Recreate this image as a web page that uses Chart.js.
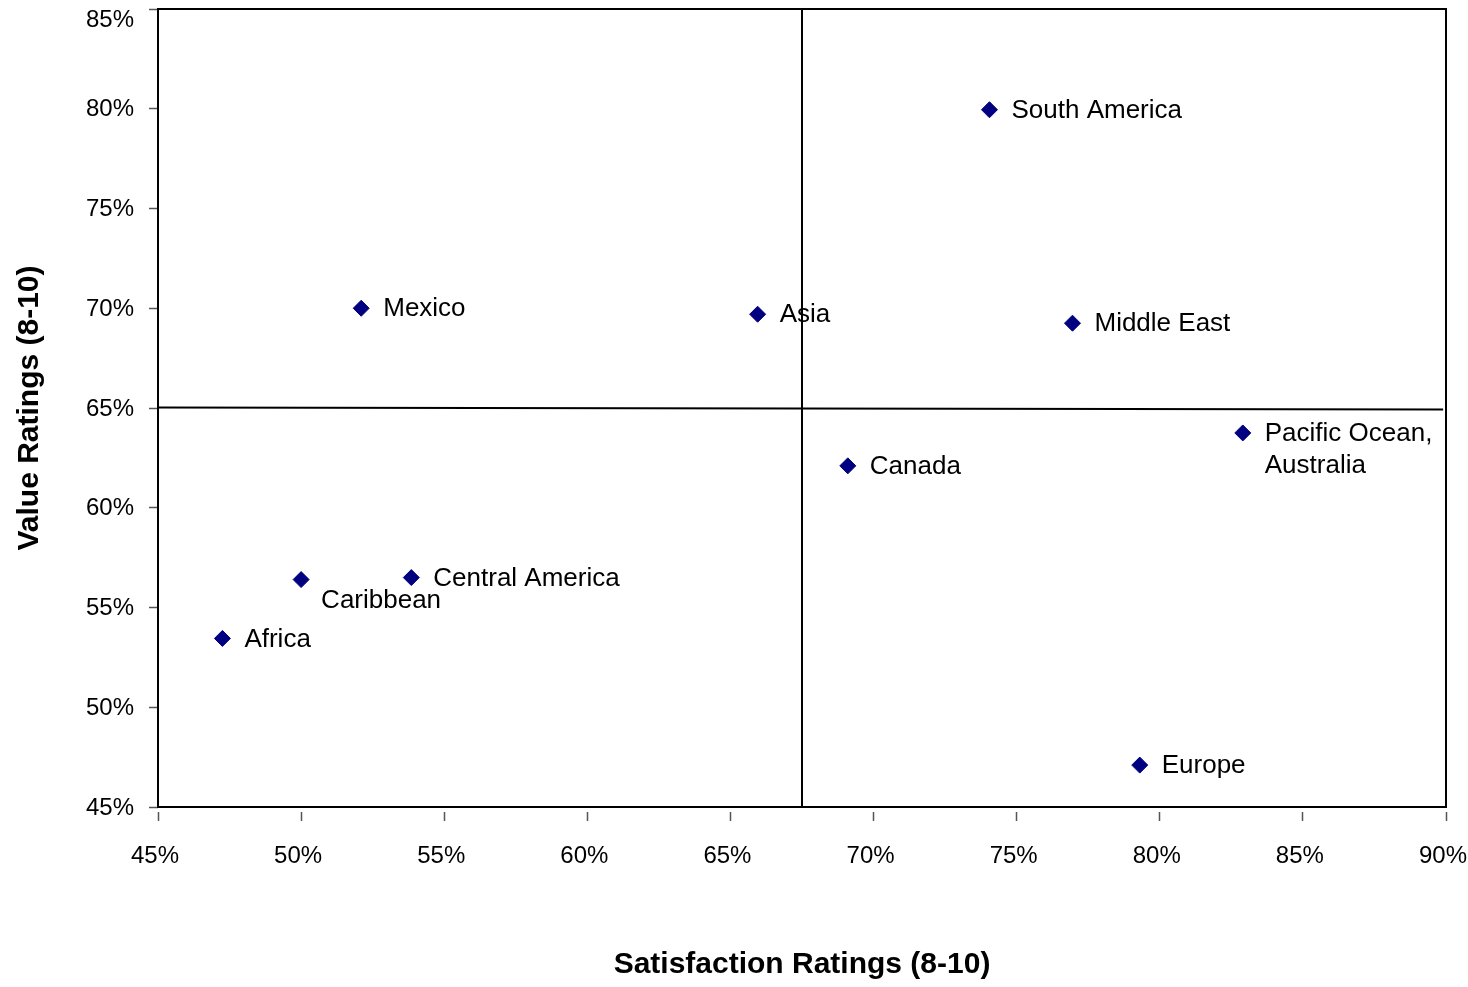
<!DOCTYPE html>
<html>
<head>
<meta charset="utf-8">
<title>Satisfaction vs Value Ratings by Region</title>
<script src="https://cdn.jsdelivr.net/npm/chart.js@4/dist/chart.umd.min.js"></script>
<style>
  html, body { margin: 0; padding: 0; background: #ffffff; }
  #wrap { width: 1468px; height: 987px; position: relative; }
</style>
</head>
<body>
<div id="wrap"><canvas id="chart"></canvas></div>
<script>
// Regions and their ratings (share of 8-10 scores, in %)
const regions = [
  'South America', 'Mexico', 'Asia', 'Middle East', 'Pacific Ocean,\nAustralia',
  'Canada', 'Central America', 'Caribbean', 'Africa', 'Europe'
];
const satisfactionRatings = [74.05, 52.1, 65.95, 76.95, 82.9, 69.1, 53.85, 50.0, 47.25, 79.3];
const valueRatings        = [79.95, 70.0, 69.7, 69.25, 63.75, 62.1, 56.5, 56.4, 53.45, 47.1];

// Axis ticks
const xTickValues = [45, 50, 55, 60, 65, 70, 75, 80, 85, 90];
const yTickValues = [45, 50, 55, 60, 65, 70, 75, 80, 85];

// Quadrant dividers
const satisfactionDivider = 67.5;
const valueDividerX = [45, 89.9];
const valueDividerY = [65.03, 64.93];

const FONT = "'Liberation Sans', Arial, Helvetica, sans-serif";
const MARK = '#000080';

// Labels that sit below-right of their marker instead of beside it
const labelBelow = new Set(['Caribbean']);

const pct = v => v + '%';

// Frame around the plotting area
const framePlugin = {
  id: 'frame',
  beforeDatasetsDraw(chart) {
    const { ctx, chartArea: a } = chart;
    ctx.save();
    ctx.strokeStyle = '#000';
    ctx.lineWidth = 2;
    ctx.strokeRect(a.left, a.top, a.right - a.left, a.bottom - a.top);
    ctx.restore();
  }
};

// Y tick labels, kept inside the canvas at the top edge
const yLabelPlugin = {
  id: 'yLabels',
  afterDraw(chart) {
    const { ctx, chartArea: a } = chart;
    const y = chart.scales.y;
    ctx.save();
    ctx.font = '24px ' + FONT;
    ctx.fillStyle = '#000';
    ctx.textAlign = 'right';
    ctx.textBaseline = 'middle';
    yTickValues.forEach(v => {
      const py = Math.max(y.getPixelForValue(v), a.top + 10);
      ctx.fillText(pct(v), y.right - 24, py + 1);
    });
    ctx.restore();
  }
};

// Region names next to each marker
const pointLabelPlugin = {
  id: 'pointLabels',
  afterDatasetsDraw(chart) {
    const { ctx } = chart;
    const meta = chart.getDatasetMeta(0);
    ctx.save();
    ctx.font = '26px ' + FONT;
    ctx.fillStyle = '#000';
    ctx.textAlign = 'left';
    ctx.textBaseline = 'middle';
    meta.data.forEach((pt, i) => {
      const name = regions[i];
      const lines = name.split('\n');
      let x = pt.x + 22, y = pt.y + 1;
      if (labelBelow.has(name)) { x = pt.x + 20; y = pt.y + 21; }
      lines.forEach((ln, k) => ctx.fillText(ln, x, y + k * 32));
    });
    ctx.restore();
  }
};

const points = satisfactionRatings.map((s, i) => ({ x: s, y: valueRatings[i] }));

new Chart(document.getElementById('chart'), {
  type: 'scatter',
  data: {
    datasets: [
      {
        label: 'Regions',
        data: points,
        pointStyle: 'rectRot',
        pointRadius: 8,
        pointHoverRadius: 8,
        backgroundColor: MARK,
        borderColor: MARK,
        borderWidth: 1
      },
      {
        label: 'Satisfaction divider',
        type: 'line',
        data: [{ x: satisfactionDivider, y: yTickValues[0] }, { x: satisfactionDivider, y: yTickValues[yTickValues.length - 1] }],
        borderColor: '#000',
        borderWidth: 2,
        pointRadius: 0,
        fill: false
      },
      {
        label: 'Value divider',
        type: 'line',
        data: valueDividerX.map((x, i) => ({ x, y: valueDividerY[i] })),
        borderColor: '#000',
        borderWidth: 2,
        pointRadius: 0,
        fill: false
      }
    ]
  },
  options: {
    responsive: true,
    maintainAspectRatio: false,
    animation: false,
    layout: { padding: { top: 5, right: 0, bottom: 0, left: 0 } },
    plugins: {
      legend: { display: false },
      tooltip: { enabled: false }
    },
    scales: {
      x: {
        type: 'linear',
        position: 'bottom',
        min: xTickValues[0],
        max: xTickValues[xTickValues.length - 1],
        afterBuildTicks: s => { s.ticks = xTickValues.map(v => ({ value: v })); },
        afterFit: s => { s.height = 180; s.paddingLeft = 0; s.paddingRight = 22; },
        border: { display: false },
        grid: {
          drawOnChartArea: false,
          drawTicks: true,
          tickLength: 14,
          tickColor: '#555',
          tickWidth: 1.5,
          tickBorderDash: [0, 5, 9, 60]
        },
        ticks: {
          color: '#000',
          font: { family: FONT, size: 24 },
          padding: 21,
          labelOffset: -3,
          maxRotation: 0,
          callback: v => pct(v)
        },
        title: {
          display: true,
          text: 'Satisfaction Ratings (8-10)',
          color: '#000',
          font: { family: FONT, size: 30, weight: 'bold' },
          padding: { top: 0, bottom: 4 }
        }
      },
      y: {
        type: 'linear',
        position: 'left',
        min: yTickValues[0],
        max: yTickValues[yTickValues.length - 1],
        afterBuildTicks: s => { s.ticks = yTickValues.map(v => ({ value: v })); },
        afterFit: s => { s.width = 158; s.paddingTop = 0; s.paddingBottom = 0; },
        border: { display: false },
        grid: {
          drawOnChartArea: false,
          drawTicks: true,
          tickLength: 9,
          tickColor: '#555',
          tickWidth: 1.5
        },
        ticks: { display: false },
        title: {
          display: true,
          text: 'Value Ratings (8-10)',
          color: '#000',
          font: { family: FONT, size: 30, weight: 'bold' },
          padding: { top: 12, bottom: 0 }
        }
      }
    }
  },
  plugins: [framePlugin, yLabelPlugin, pointLabelPlugin]
});
</script>
</body>
</html>
